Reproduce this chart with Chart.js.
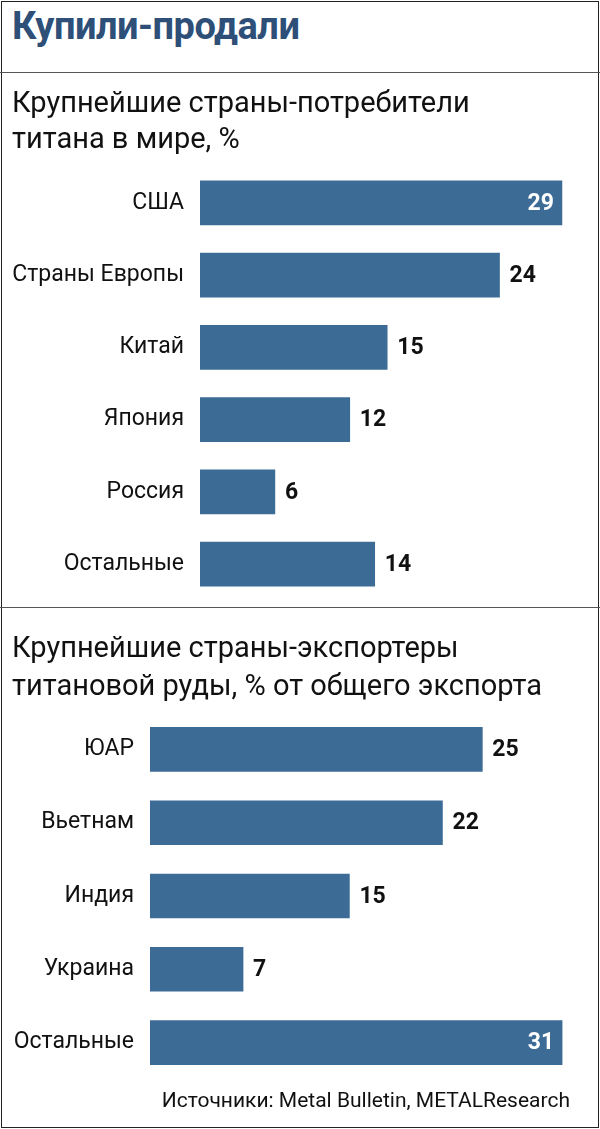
<!DOCTYPE html>
<html><head><meta charset="utf-8">
<script src="https://cdn.jsdelivr.net/npm/chart.js@4/dist/chart.umd.min.js"></script>
<style>
body{margin:0;background:#fff;}
#wrap{position:relative;width:600px;height:1129px;overflow:hidden;font-family:'Liberation Sans Narrow','Roboto',sans-serif;}
.frame{position:absolute;left:1px;top:1px;width:596px;height:1125px;border:1px solid #222;}
.t{position:absolute;color:#111;z-index:2;}
.hr{position:absolute;left:0;width:600px;height:1px;background:#555;}
.c{position:absolute;left:0;width:600px;}
</style></head><body>
<div id="wrap">
<div class="frame"></div>
<div class="t" style="left:12px;top:4px;font-size:38px;font-weight:bold;color:#2d4f78;letter-spacing:-0.5px;">Купили-продали</div>
<div class="hr" style="top:72px"></div>
<div class="t" style="left:12px;top:84px;font-size:29px;line-height:36px;">Крупнейшие страны-потребители<br>титана в мире, %</div>
<div class="c" style="top:145px;height:477px"><canvas id="c1"></canvas></div>
<div class="hr" style="top:607px"></div>
<div class="t" style="left:12px;top:628px;font-size:29px;line-height:38px;">Крупнейшие страны-экспортеры<br>титановой руды, % от общего экспорта</div>
<div class="c" style="top:691px;height:410px"><canvas id="c2"></canvas></div>
<div class="t" style="right:30px;top:1088px;font-size:21px;">Источники: Metal Bulletin, METALResearch</div>
</div>
<script>
const consumers = ['США','Страны Европы','Китай','Япония','Россия','Остальные'];
const consumerShare = [29,24,15,12,6,14];
const exporters = ['ЮАР','Вьетнам','Индия','Украина','Остальные'];
const exportShare = [25,22,15,7,31];

const FONT = "'Liberation Sans Narrow','Roboto',sans-serif";
const valLabels = {
  id:'valLabels',
  afterDatasetsDraw(chart){
    const ctx = chart.ctx, meta = chart.getDatasetMeta(0), data = chart.data.datasets[0].data;
    ctx.save();
    ctx.font = "bold 23px " + FONT;
    ctx.textBaseline = 'middle';
    meta.data.forEach((b,i)=>{
      const v = data[i];
      if (v >= 29) { ctx.fillStyle='#fff'; ctx.textAlign='right'; ctx.fillText(v, b.x-8, b.y+1); }
      else { ctx.fillStyle='#111'; ctx.textAlign='left'; ctx.fillText(v, b.x+10, b.y+1); }
    });
    ctx.restore();
  }
};
function make(id, labels, data, axisW, max){
  new Chart(document.getElementById(id), {
    type:'bar',
    data:{labels, datasets:[{data, backgroundColor:'#3c6b96', barThickness:44, borderSkipped:false}]},
    options:{
      indexAxis:'y', responsive:true, maintainAspectRatio:false, animation:false,
      layout:{padding:{left:0,right:10,top:0,bottom:0}},
      plugins:{legend:{display:false}, tooltip:{enabled:false}},
      scales:{
        x:{display:false, min:0, max},
        y:{grid:{display:false}, border:{display:false},
           ticks:{color:'#111', font:{size:23, family:FONT}, padding:8},
           afterFit(s){ s.width = axisW; }}
      }
    },
    plugins:[valLabels]
  });
}
make('c1', consumers, consumerShare, 200, 31.25);
make('c2', exporters, exportShare, 150, 33.1);
</script>
</body></html>
